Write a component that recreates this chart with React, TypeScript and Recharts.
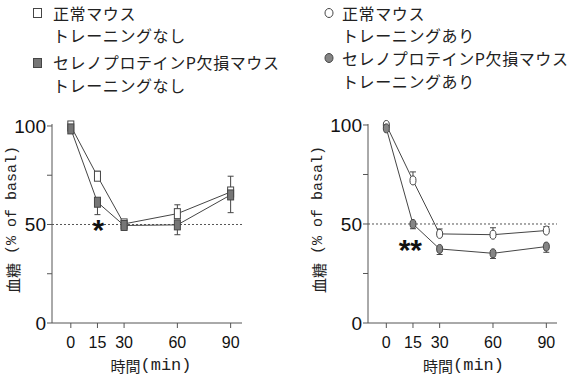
import React from 'react';
import { LineChart, Line, XAxis, YAxis, ReferenceLine, ReferenceDot, ErrorBar } from 'recharts';

// ---- data ----
const minutes = [0, 15, 30, 60, 90];
const xTicks = [0, 15, 30, 60, 90];
const yTicks = [0, 25, 50, 75, 100];
const yTickLabels: Record<number, string> = { 0: '0', 50: '50', 100: '100' };

// left panel: no training
const normalNoTrain = [100, 74.5, 50.3, 55.5, 66.5];
const normalNoTrainErr = [1, 2.5, 2, 4.5, 8];
const koNoTrain = [98.5, 61.3, 49.5, 49.8, 65];
const koNoTrainErr = [1, 6.3, 2, 5, 9];

// right panel: with training
const normalTrain = [100, 72, 45, 44.6, 46.7];
const normalTrainErr = [0.5, 4.3, 2.5, 3.5, 2];
const koTrain = [98.3, 50, 37.4, 35.2, 38.6];
const koTrainErr = [0.5, 2.4, 2.8, 2.6, 2.9];

const leftStar = { x: 15.5, y: 51, text: '*' };
const rightStar = { x: 13.5, y: 40.6, text: '**' };

const legendLeft = [
  ['正常マウス', 'トレーニングなし'],
  ['セレノプロテインP欠損マウス', 'トレーニングなし'],
];
const legendRight = [
  ['正常マウス', 'トレーニングあり'],
  ['セレノプロテインP欠損マウス', 'トレーニングあり'],
];

const xLabelCjk = '時間';
const xLabelLatin = '(min)';
const yLabelCjk = '血糖';
const yLabelLatin = ' (% of basal)';

const buildRows = (a: number[], aErr: number[], b: number[], bErr: number[]) =>
  minutes.map((t, i) => ({
    t,
    a: a[i],
    aErr: [0, aErr[i]],
    b: b[i],
    bErr: [bErr[i], 0],
  }));

const leftRows = buildRows(normalNoTrain, normalNoTrainErr, koNoTrain, koNoTrainErr);
const rightRows = buildRows(normalTrain, normalTrainErr, koTrain, koTrainErr);

// ---- styles ----
const LINE = '#454545';
const AXIS = '#555';
const GREY_SQ = '#767676';
const GREY_CI = '#858585';
const CJK = '"Noto Sans CJK JP", sans-serif';
const MONO = '"Liberation Mono", monospace';
const SANS = '"Liberation Sans", Arial, sans-serif';

const squareDot = (fill: string) => (p: any) => (
  <rect key={`s-${fill}-${p.index}`} x={p.cx - 3} y={p.cy - 5} width={6} height={10}
    fill={fill} stroke={LINE} strokeWidth={1} />
);
const circleDot = (fill: string) => (p: any) => (
  <ellipse key={`c-${fill}-${p.index}`} cx={p.cx} cy={p.cy} rx={3} ry={4.5}
    fill={fill} stroke={LINE} strokeWidth={1} />
);

const starShape = (text: string) => (p: any) => (
  <text x={p.cx} y={p.cy + 17} textAnchor="middle" fontFamily={SANS} fontWeight="bold"
    fontSize={30} fill="#111">{text}</text>
);

const yLabel = (dx: number) => (props: any) => {
  const vb = props.viewBox || {};
  const cx = vb.x + dx;
  const cy = vb.y + vb.height / 2 - 4;
  return (
    <text x={cx} y={cy} transform={`rotate(-90, ${cx}, ${cy})`} textAnchor="middle"
      dominantBaseline="central" fill="#222">
      <tspan fontFamily={CJK} fontSize={15}>{yLabelCjk}</tspan>
      <tspan fontFamily={MONO} fontSize={15}>{yLabelLatin}</tspan>
    </text>
  );
};

const xLabel = (dx: number) => (props: any) => {
  const vb = props.viewBox || {};
  const cx = vb.x + vb.width / 2 + dx;
  const cy = vb.y + 42;
  return (
    <text x={cx} y={cy} textAnchor="middle" dominantBaseline="central" fill="#222">
      <tspan fontFamily={CJK} fontSize={15}>{xLabelCjk}</tspan>
      <tspan fontFamily={MONO} fontSize={17}>{xLabelLatin}</tspan>
    </text>
  );
};

type PanelProps = {
  rows: any[];
  width: number;
  marginRight: number;
  yAxisWidth: number;
  domain: [number, number];
  yLabelDx: number;
  xLabelDx: number;
  shape: 'square' | 'circle';
  star: { x: number; y: number; text: string };
};

const Panel = ({ rows, width, marginRight, yAxisWidth, domain, yLabelDx, xLabelDx, shape, star }: PanelProps) => {
  const dotA = shape === 'square' ? squareDot('#fff') : circleDot('#fff');
  const dotB = shape === 'square' ? squareDot(GREY_SQ) : circleDot(GREY_CI);
  return (
    <LineChart width={width} height={280} data={rows}
      margin={{ top: 24, right: marginRight, bottom: 0, left: 0 }}>
      <XAxis dataKey="t" type="number" domain={domain} ticks={xTicks} interval={0}
        allowDataOverflow height={57} tickSize={5} tickMargin={9}
        stroke={AXIS} tickLine={{ stroke: AXIS }} axisLine={{ stroke: AXIS }}
        tick={{ fill: '#111', fontSize: 16, fontFamily: SANS }}
        label={xLabel(xLabelDx)} />
      <YAxis type="number" domain={[0, 100]} ticks={yTicks} interval={0}
        width={yAxisWidth} tickSize={5} tickMargin={1}
        tickFormatter={(v: number) => yTickLabels[v] ?? ''}
        stroke={AXIS} tickLine={{ stroke: AXIS }} axisLine={{ stroke: AXIS }}
        tick={{ fill: '#111', fontSize: 19, fontFamily: SANS }}
        label={yLabel(yLabelDx)} />
      <ReferenceLine y={50} stroke="#555" strokeDasharray="2 2" strokeWidth={1} />
      <Line type="linear" dataKey="a" stroke={LINE} strokeWidth={1} dot={dotA}
        isAnimationActive={false}>
        <ErrorBar dataKey="aErr" direction="y" width={3} stroke={LINE} strokeWidth={1} />
      </Line>
      <Line type="linear" dataKey="b" stroke={LINE} strokeWidth={1} dot={dotB}
        isAnimationActive={false}>
        <ErrorBar dataKey="bErr" direction="y" width={3} stroke={LINE} strokeWidth={1} />
      </Line>
      <ReferenceDot x={star.x} y={star.y} r={0} shape={starShape(star.text)} />
    </LineChart>
  );
};

const Legend = () => (
  <svg width={580} height={100} style={{ position: 'absolute', left: 0, top: 0 }}>
    {/* left legend */}
    <rect x={33.5} y={8.5} width={8} height={9} fill="#fff" stroke={LINE} />
    <rect x={33.5} y={58.5} width={8} height={9} fill={GREY_SQ} stroke={LINE} />
    {/* right legend */}
    <ellipse cx={329} cy={13} rx={4} ry={4.5} fill="#fff" stroke={LINE} />
    <ellipse cx={329} cy={58} rx={4} ry={4.5} fill={GREY_CI} stroke={LINE} />
    <g fontFamily={CJK} fontSize={16} letterSpacing={0.6} fill="#222" dominantBaseline="central">
      <text x={53} y={13}>{legendLeft[0][0]}</text>
      <text x={53} y={35}>{legendLeft[0][1]}</text>
      <text x={53} y={62}>{legendLeft[1][0]}</text>
      <text x={53} y={85}>{legendLeft[1][1]}</text>
      <text x={342} y={13}>{legendRight[0][0]}</text>
      <text x={342} y={35}>{legendRight[0][1]}</text>
      <text x={342} y={58}>{legendRight[1][0]}</text>
      <text x={342} y={81}>{legendRight[1][1]}</text>
    </g>
  </svg>
);

export default function App() {
  return (
    <div style={{ position: 'absolute', left: 0, top: 0, width: 580, height: 380, background: '#fff', overflow: 'hidden' }}>
      <Legend />
      <div style={{ position: 'absolute', left: 0, top: 100 }}>
        <Panel rows={leftRows} width={290} marginRight={48} yAxisWidth={52}
          domain={[-10.6, 96.4]} yLabelDx={12} xLabelDx={4} shape="square" star={leftStar} />
      </div>
      <div style={{ position: 'absolute', left: 296, top: 100 }}>
        <Panel rows={rightRows} width={284} marginRight={23} yAxisWidth={72}
          domain={[-10.3, 96]} yLabelDx={22} xLabelDx={1} shape="circle" star={rightStar} />
      </div>
    </div>
  );
}
